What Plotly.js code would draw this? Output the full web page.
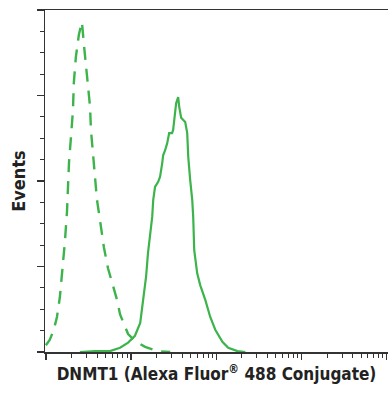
<!DOCTYPE html>
<html>
<head>
<meta charset="utf-8">
<script src="https://cdn.plot.ly/plotly-3.0.1.min.js"></script>
<style>html,body{margin:0;padding:0;background:#fff;}#chart{width:388px;height:393px;}</style>
</head>
<body>
<div id="chart"></div>
<script>
// Control (isotype) histogram - dashed
const controlX = [1.0, 1.11, 1.24, 1.35, 1.46, 1.54, 1.67, 1.77, 1.82, 1.87, 1.97, 2.08, 2.13, 2.25, 2.44, 2.65, 2.80, 2.96, 3.12, 3.30, 3.38, 3.57, 3.77, 3.98, 4.32, 4.81, 5.36, 6.14, 6.84, 7.43, 8.28, 9.23, 11.1, 14.6, 20.8, 28.8];
const controlY = [8, 14, 26, 41, 64, 88, 128, 164, 190, 222, 251, 283, 315, 345, 371, 386, 359, 333, 310, 287, 260, 230, 201, 178, 154, 122, 98, 78, 61, 44, 32, 21, 13, 6, 1, 0];
// DNMT1 stained histogram - solid
const dnmt1X = [2.51, 3.77, 5.66, 7.43, 9.23, 11.1, 12.8, 13.8, 15.0, 15.8, 17.7, 18.2, 19.1, 20.8, 21.9, 23.2, 23.8, 25.1, 26.5, 28.0, 30.3, 31.2, 32.1, 33.8, 35.7, 36.7, 38.7, 43.2, 45.6, 46.9, 49.4, 52.2, 53.6, 55.1, 59.7, 64.9, 74.3, 84.9, 97.3, 118, 138, 177, 219];
const dnmt1Y = [0, 1, 1, 5, 11, 19, 34, 57, 88, 116, 158, 178, 193, 199, 205, 221, 230, 236, 244, 256, 256, 260, 271, 291, 298, 287, 274, 269, 256, 228, 201, 178, 158, 119, 92, 78, 61, 41, 26, 12, 5, 1, 0];

const green = 'rgb(60,180,75)';
const axisColor = '#333333';
const fontFam = '"Liberation Sans Narrow", "DejaVu Sans Condensed", "Arial Narrow", sans-serif';

const traces = [
  {x: controlX, y: controlY, type: 'scatter', mode: 'lines',
   line: {color: green, width: 2.4, dash: '13px,9px'}, hoverinfo: 'skip'},
  {x: dnmt1X, y: dnmt1Y, type: 'scatter', mode: 'lines',
   line: {color: green, width: 2.2}, hoverinfo: 'skip'}
];

const layout = {
  width: 388, height: 393,
  margin: {l: 45, r: 0, t: 10, b: 41},
  paper_bgcolor: '#fff', plot_bgcolor: '#fff',
  showlegend: false,
  font: {family: fontFam, color: '#222'},
  xaxis: {
    type: 'log', range: [-0.01, 4.015], dtick: 1,
    showgrid: false, zeroline: false,
    showline: true, linecolor: axisColor, linewidth: 1.5, mirror: true,
    ticks: 'outside', ticklen: 6, tickwidth: 1.5, tickcolor: axisColor,
    showticklabels: false,
    minor: {dtick: 'D1', ticks: 'outside', ticklen: 4, tickwidth: 1, tickcolor: axisColor, showgrid: false},
    title: {text: 'DNMT1 (Alexa Fluor<sup>®</sup> 488 Conjugate)', standoff: 9,
            font: {family: fontFam, size: 17, color: '#222', weight: 'bold'}}
  },
  yaxis: {
    range: [0, 400], dtick: 100,
    showgrid: false, zeroline: false,
    showline: true, linecolor: axisColor, linewidth: 1.5,
    ticks: 'outside', ticklen: 7, tickwidth: 1.5, tickcolor: axisColor,
    showticklabels: false,
    minor: {dtick: 25, ticks: 'outside', ticklen: 4, tickwidth: 1, tickcolor: axisColor, showgrid: false},
    title: {text: 'Events', standoff: 6,
            font: {family: fontFam, size: 18, color: '#222', weight: 'bold'}}
  }
};

Plotly.newPlot('chart', traces, layout, {staticPlot: true, displayModeBar: false});
</script>
</body>
</html>
